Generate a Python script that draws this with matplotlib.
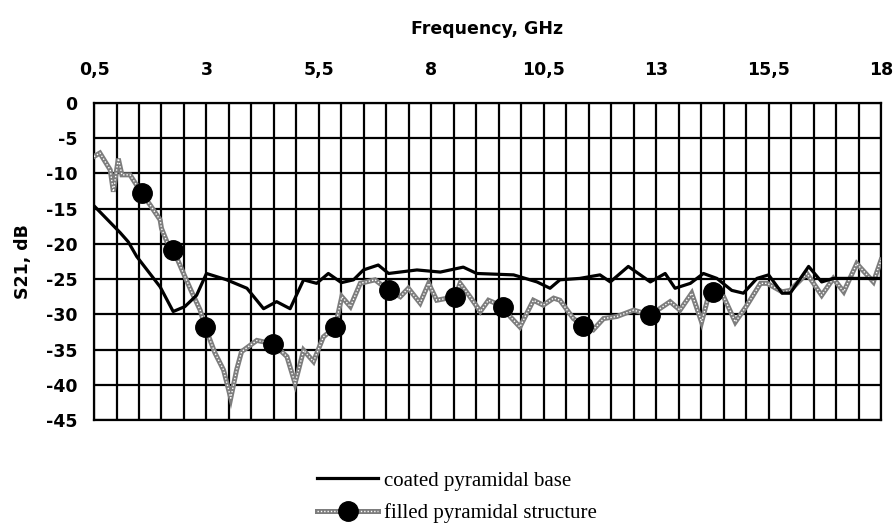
import matplotlib
matplotlib.use("Agg")
import numpy as np
import matplotlib.pyplot as plt
from matplotlib.legend_handler import HandlerTuple

# coated pyramidal base (black line)
coatedFreq = [0.5, 1.08, 1.26, 1.45, 1.97, 2.26, 2.52, 2.78, 3.0, 3.45, 3.9, 4.27, 4.56, 4.86,
              5.16, 5.45, 5.71, 6.0, 6.27, 6.49, 6.82, 7.05, 7.68, 8.2, 8.71, 9.01, 9.83, 10.35,
              10.64, 10.86, 11.3, 11.75, 11.98, 12.38, 12.87, 13.2, 13.42, 13.76, 14.05, 14.35,
              14.68, 14.94, 15.24, 15.5, 15.8, 15.98, 16.39, 16.68, 16.94, 17.3, 18.0]
coatedS21 = [-14.6, -18.4, -19.7, -21.8, -26.1, -29.6, -28.9, -27.3, -24.2, -25.1, -26.3, -29.2,
             -28.2, -29.2, -25.1, -25.6, -24.2, -25.5, -25.1, -23.7, -23.0, -24.2, -23.7, -24.0,
             -23.3, -24.2, -24.4, -25.4, -26.3, -25.1, -24.9, -24.4, -25.4, -23.2, -25.4, -24.2,
             -26.3, -25.6, -24.2, -24.9, -26.6, -27.0, -24.9, -24.4, -27.0, -27.0, -23.2, -25.4,
             -24.9, -24.9, -24.9]

# filled pyramidal structure (grey dotted line with markers)
filledFreq = [0.5, 0.63, 0.86, 0.93, 1.04, 1.12, 1.3, 1.56, 1.75, 1.97, 2.0, 2.12, 2.26, 2.49,
              2.67, 2.86, 2.97, 3.19, 3.38, 3.54, 3.67, 3.78, 4.12, 4.49, 4.79, 4.97, 5.16, 5.38,
              5.6, 5.86, 6.01, 6.2, 6.42, 6.75, 7.05, 7.31, 7.49, 7.75, 7.94, 8.12, 8.53, 8.64,
              8.86, 9.09, 9.27, 9.6, 9.75, 9.97, 10.27, 10.49, 10.72, 10.86, 11.16, 11.38, 11.6,
              11.83, 12.13, 12.5, 12.87, 13.31, 13.53, 13.79, 14.01, 14.16, 14.27, 14.5, 14.76,
              15.02, 15.32, 15.47, 15.8, 15.98, 16.35, 16.68, 16.94, 17.17, 17.46, 17.83, 18.0]
filledS21 = [-7.6, -7.1, -9.5, -12.6, -7.9, -10.2, -10.2, -12.8, -14.5, -16.6, -17.8, -19.7, -20.8,
             -24.2, -26.8, -29.4, -31.8, -35.5, -37.9, -41.9, -37.9, -35.3, -33.7, -34.2, -36.0,
             -39.8, -35.1, -36.7, -33.2, -31.8, -27.5, -28.9, -25.6, -25.1, -26.6, -27.5, -26.3,
             -28.4, -25.6, -28.0, -27.5, -25.6, -27.5, -29.6, -28.0, -28.9, -30.3, -31.8, -28.0,
             -28.7, -27.7, -28.0, -30.6, -31.6, -32.2, -30.6, -30.3, -29.4, -30.1, -28.2, -29.4,
             -27.0, -31.1, -27.5, -26.8, -27.5, -31.1, -28.7, -25.6, -25.6, -26.8, -26.6, -24.2,
             -27.3, -24.9, -26.8, -22.8, -25.4, -22.3]
markerFreq = [1.56, 2.26, 2.97, 4.49, 5.86, 7.05, 8.53, 9.6, 11.38, 12.87, 14.27]

xTicks = np.arange(0.5, 18.01, 0.5)
xLabelTicks = [0.5, 3, 5.5, 8, 10.5, 13, 15.5, 18]
yTicks = list(range(0, -46, -5))

sansBold = dict(family="DejaVu Sans", weight="bold", size=12.5)

fig = plt.figure(figsize=(8.93, 5.27), dpi=100)
ax = fig.add_axes([0.1053, 0.203, 0.8813, 0.6016])

markIdx = [filledFreq.index(v) for v in markerFreq]

lineCoated, = ax.plot(coatedFreq, coatedS21, color="black", lw=2.3, zorder=4)
lineGrey, = ax.plot(filledFreq, filledS21, color="#7d7d7d", lw=3.6, zorder=3,
                    solid_joinstyle="miter")
lineDots, = ax.plot(filledFreq, filledS21, color="white", lw=1.0, ls=(0, (1, 1.4)), zorder=3.5)
markers, = ax.plot(filledFreq, filledS21, ls="none", marker="o", ms=14, color="black",
                   markevery=markIdx, zorder=5)

ax.set_xlim(0.5, 18)
ax.set_ylim(-45, 0)
ax.set_xticks(xTicks)
ax.set_xticklabels([("%g" % t).replace(".", ",") if any(abs(t - v) < 1e-6 for v in xLabelTicks) else ""
                    for t in xTicks])
ax.set_yticks(yTicks)
ax.set_yticklabels([str(t) for t in yTicks])
ax.xaxis.tick_top()
ax.xaxis.set_label_position("top")
ax.tick_params(length=0, pad=17, axis="x")
ax.tick_params(length=0, pad=12, axis="y")
for lab in ax.get_xticklabels() + ax.get_yticklabels():
    lab.set_fontproperties(matplotlib.font_manager.FontProperties(**sansBold))
ax.grid(True, color="black", lw=1.6)
for sp in ax.spines.values():
    sp.set_linewidth(1.6)
    sp.set_color("black")

ax.set_xlabel("Frequency, GHz", fontdict=sansBold, labelpad=20)
ax.set_ylabel("S21, dB", fontdict=sansBold, labelpad=10)

fig.legend([lineCoated, (lineGrey, lineDots, markers)],
           ["coated pyramidal base", "filled pyramidal structure"],
           handler_map={tuple: HandlerTuple(ndivide=1)},
           loc="upper left", bbox_to_anchor=(0.355, 0.106), frameon=False,
           borderpad=0, borderaxespad=0, handlelength=2.95, handletextpad=0.25,
           labelspacing=0.6, prop=dict(family="Liberation Serif", size=15))

fig.savefig("out.png", dpi=100)
